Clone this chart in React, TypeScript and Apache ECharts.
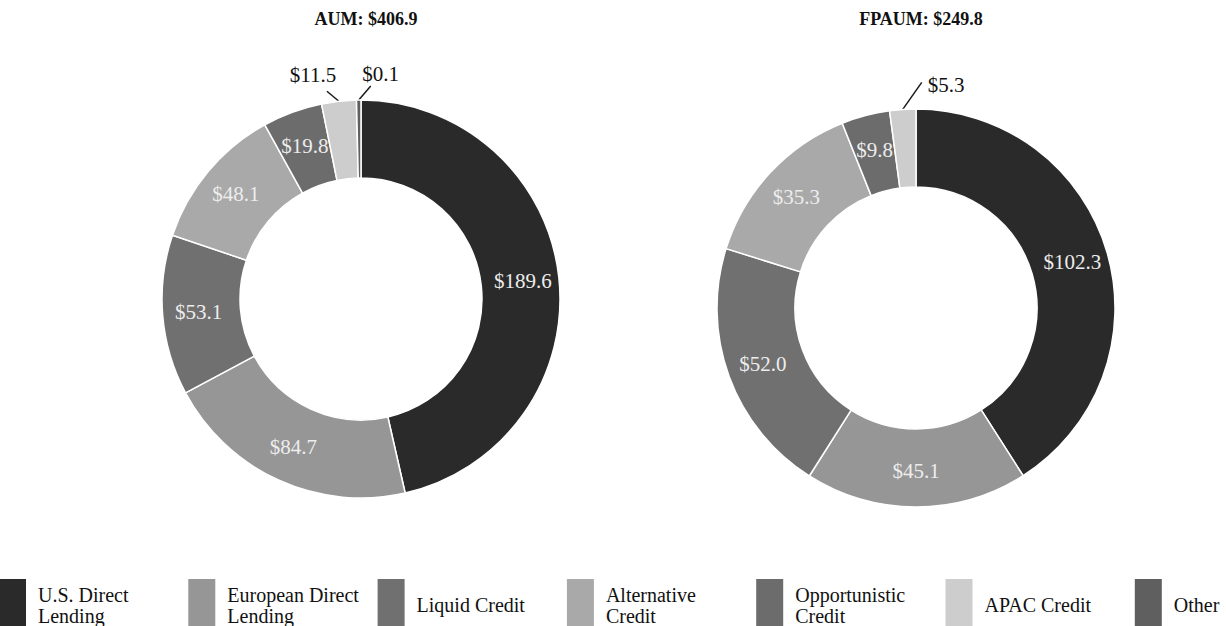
import React, { useEffect, useRef } from "react";
import * as echarts from "echarts";

const categories = [
  "U.S. Direct Lending",
  "European Direct Lending",
  "Liquid Credit",
  "Alternative Credit",
  "Opportunistic Credit",
  "APAC Credit",
  "Other",
];
const legendLabels = [
  "U.S. Direct\nLending",
  "European Direct\nLending",
  "Liquid Credit",
  "Alternative\nCredit",
  "Opportunistic\nCredit",
  "APAC Credit",
  "Other",
];
const colors = ["#2a2a2a", "#969696", "#707070", "#a9a9a9", "#6c6c6c", "#cdcdcd", "#5f5f5f"];
const aumValues = [189.6, 84.7, 53.1, 48.1, 19.8, 11.5, 0.1];
const fpaumValues = [102.3, 45.1, 52.0, 35.3, 9.8, 5.3];
const aumOutside = [5, 6];
const fpaumOutside = [5];
const aumTitle = "AUM: $406.9";
const fpaumTitle = "FPAUM: $249.8";

const FONT = "'Liberation Serif', 'Times New Roman', serif";

// leader-line geometry for the outside labels: [line dx, line dy, label dx, label dy, align]
const leaderAum: Record<number, [number, number, number, number, string]> = {
  5: [-12, -10, -26, -26, "center"],
  6: [12, -14, 22, -26, "center"],
};
const leaderFpaum: Record<number, [number, number, number, number, string]> = {
  5: [19, -27, 25, -24, "left"],
};

function buildData(values: number[], outside: number[]) {
  return values.map((v, i) => {
    const small = outside.includes(i);
    return {
      name: categories[i],
      value: v,
      itemStyle: { color: colors[i] },
      label: small
        ? { position: "outside", color: "#111" }
        : { position: "inside", color: "#ededed" },
      labelLine: small
        ? { show: true, length: 10, length2: 0, lineStyle: { color: "#1a1a1a", width: 1.5 } }
        : { show: false },
    };
  });
}

function makeLayout(leader: Record<number, [number, number, number, number, string]>) {
  return (params: any) => {
    const cfg = leader[params.dataIndex];
    if (!cfg || !params.labelLinePoints) return {};
    const p0 = params.labelLinePoints[0];
    const end = [p0[0] + cfg[0], p0[1] + cfg[1]];
    return {
      x: p0[0] + cfg[2],
      y: p0[1] + cfg[3],
      align: cfg[4],
      verticalAlign: "middle",
      labelLinePoints: [p0, end, end],
    };
  };
}

export default function App() {
  const ref = useRef<HTMLDivElement>(null);
  useEffect(() => {
    if (!ref.current) return;
    const chart = echarts.init(ref.current, null, { renderer: "svg" });
    const legendGraphics: any[] = [];
    legendLabels.forEach((lab, i) => {
      const x = -1 + i * 189.3;
      legendGraphics.push({
        type: "rect",
        shape: { x, y: 579, width: 27, height: 52 },
        style: { fill: colors[i] },
      });
      legendGraphics.push({
        type: "text",
        x: x + 39,
        y: 605,
        style: {
          text: lab,
          font: `20px ${FONT}`,
          fill: "#111",
          verticalAlign: "middle",
          lineHeight: 21,
        },
      });
    });
    const seriesBase = {
      type: "pie",
      radius: [121, 199],
      startAngle: 90,
      clockwise: true,
      minAngle: 1.3,
      avoidLabelOverlap: false,
      itemStyle: { borderColor: "#ffffff", borderWidth: 1.5 },
      label: {
        show: true,
        fontFamily: FONT,
        fontSize: 21,
        formatter: (p: any) => "$" + Number(p.value).toFixed(1),
      },
      emphasis: { disabled: true },
    };
    chart.setOption({
      animation: false,
      backgroundColor: "#ffffff",
      title: [
        {
          text: aumTitle,
          left: 361,
          top: 5,
          textAlign: "center",
          textStyle: { fontFamily: FONT, fontSize: 18, fontWeight: "bold", color: "#111" },
        },
        {
          text: fpaumTitle,
          left: 916,
          top: 5,
          textAlign: "center",
          textStyle: { fontFamily: FONT, fontSize: 18, fontWeight: "bold", color: "#111" },
        },
      ],
      series: [
        {
          ...seriesBase,
          center: [361, 299],
          data: buildData(aumValues, aumOutside),
          labelLayout: makeLayout(leaderAum),
        },
        {
          ...seriesBase,
          center: [916, 308],
          data: buildData(fpaumValues, fpaumOutside),
          labelLayout: makeLayout(leaderFpaum),
        },
      ],
      graphic: legendGraphics,
    });
    return () => chart.dispose();
  }, []);
  return (
    <div
      ref={ref}
      style={{ position: "fixed", left: 0, top: 0, width: 1226, height: 626, background: "#fff" }}
    />
  );
}
